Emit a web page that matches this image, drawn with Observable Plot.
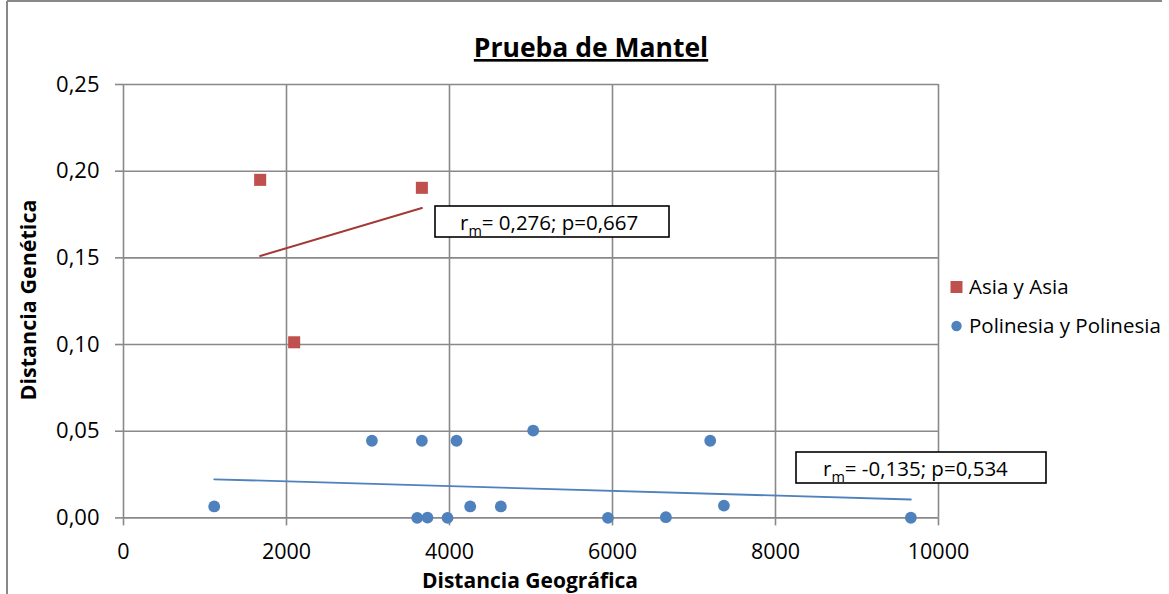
<!DOCTYPE html>
<html>
<head>
<meta charset="utf-8">
<script src="https://cdn.jsdelivr.net/npm/d3@7"></script>
<script src="https://cdn.jsdelivr.net/npm/@observablehq/plot@0.6"></script>
<style>
  html, body { margin: 0; padding: 0; background: #fff; }
  #chart { position: relative; width: 1169px; height: 594px; overflow: hidden; }
</style>
</head>
<body>
<div id="chart"></div>
<script>
// ---- data ----
const asiaX = [1677, 3661, 2094];
const asiaY = [0.195, 0.1904, 0.1013];
const polX = [1113, 3048, 3661, 4086, 5027, 3604, 3730, 3976, 4254, 4630, 5944, 6655, 7199, 7367, 9661];
const polY = [0.0066, 0.0445, 0.0445, 0.0445, 0.0504, 0, 0.0002, 0, 0.0066, 0.0066, 0, 0.0004, 0.0445, 0.0071, 0.0001];
const xTicks = [0, 2000, 4000, 6000, 8000, 10000];
const yTicks = [0, 0.05, 0.10, 0.15, 0.20, 0.25];
const seriesNames = ["Asia y Asia", "Polinesia y Polinesia"];
const titleText = "Prueba de Mantel";
const xTitle = "Distancia Geográfica";
const yTitle = "Distancia Genética";
const note1 = ["r", "m", "= 0,276; p=0,667"];
const note2 = ["r", "m", "= -0,135; p=0,534"];

const asia = asiaX.map((x, i) => ({x, y: asiaY[i]}));
const pol = polX.map((x, i) => ({x, y: polY[i]}));

const RED = "#C0504D", BLUE = "#4F81BD", GRID = "#898989";
const FONT = "'Open Sans', sans-serif";

const plot = Plot.plot({
  width: 1169, height: 594,
  marginLeft: 123, marginRight: 231, marginTop: 84, marginBottom: 76.6,
  style: {fontFamily: FONT, fontSize: "22px", color: "#000", background: "#fff", overflow: "visible"},
  x: {domain: [0, 10000]},
  y: {domain: [0, 0.25]},
  marks: [
    Plot.gridX(xTicks, {stroke: GRID, strokeOpacity: 1, strokeWidth: 1.6}),
    Plot.gridY(yTicks, {stroke: GRID, strokeOpacity: 1, strokeWidth: 1.6}),
    Plot.axisX(xTicks, {tickSize: 8, tickPadding: 18, stroke: GRID, strokeWidth: 1.6, fontSize: 21.5, label: null, tickFormat: d => String(d)}),
    Plot.axisY(yTicks, {tickSize: 8, tickPadding: 16, stroke: GRID, strokeWidth: 1.6, fontSize: 22, label: null, tickFormat: d => d.toFixed(2).replace(".", ",")}),
    Plot.linearRegressionY(asia, {x: "x", y: "y", stroke: "#A23A36", strokeWidth: 2, ci: 0}),
    Plot.linearRegressionY(pol, {x: "x", y: "y", stroke: BLUE, strokeWidth: 1.8, ci: 0}),
    Plot.dot(asia, {x: "x", y: "y", symbol: "square", r: 6.8, fill: RED, stroke: "none"}),
    Plot.dot(pol, {x: "x", y: "y", symbol: "circle", r: 5.9, fill: BLUE, stroke: "none"})
  ]
});
document.getElementById("chart").appendChild(plot);

const svg = d3.select(plot);
// outer frame
svg.append("line").attr("x1", 7).attr("y1", 1).attr("x2", 1162).attr("y2", 1).attr("stroke", "#888").attr("stroke-width", 2);
svg.append("line").attr("x1", 7).attr("y1", 1).attr("x2", 7).attr("y2", 594).attr("stroke", "#888").attr("stroke-width", 2);

// title
svg.append("text").attr("x", 591).attr("y", 57).attr("text-anchor", "middle")
  .attr("font-family", FONT).attr("font-weight", "bold").attr("font-size", 26.5)
  .attr("text-decoration", "underline").attr("fill", "#000").text(titleText);

// axis titles
svg.append("text").attr("x", 530).attr("y", 587.5).attr("text-anchor", "middle")
  .attr("font-family", FONT).attr("font-weight", "bold").attr("font-size", 21).attr("fill", "#000").text(xTitle);
svg.append("text").attr("transform", "translate(36,300) rotate(-90)").attr("text-anchor", "middle")
  .attr("font-family", FONT).attr("font-weight", "bold").attr("font-size", 21.5).attr("fill", "#000").text(yTitle);

// legend
svg.append("rect").attr("x", 950.5).attr("y", 281).attr("width", 12).attr("height", 12).attr("fill", RED);
svg.append("text").attr("x", 969).attr("y", 293.5).attr("text-anchor", "start").attr("font-family", FONT).attr("font-size", 20.5).attr("fill", "#000").text(seriesNames[0]);
svg.append("circle").attr("cx", 956.5).attr("cy", 326).attr("r", 5.2).attr("fill", BLUE);
svg.append("text").attr("x", 969).attr("y", 333).attr("text-anchor", "start").attr("font-family", FONT).attr("font-size", 20.5).attr("fill", "#000").text(seriesNames[1]);

// annotation boxes
function note(bx, by, bw, bh, tx, ty, parts) {
  svg.append("rect").attr("x", bx).attr("y", by).attr("width", bw).attr("height", bh)
    .attr("fill", "#fff").attr("stroke", "#000").attr("stroke-width", 1.6);
  const t = svg.append("text").attr("x", tx).attr("y", ty).attr("text-anchor", "start")
    .attr("font-family", FONT).attr("font-size", 20.5).attr("fill", "#000");
  t.append("tspan").text(parts[0]);
  t.append("tspan").attr("font-size", 14.5).attr("dy", 6).text(parts[1]);
  t.append("tspan").attr("dy", -6).text(parts[2]);
}
note(435, 206, 234, 31, 460, 229.5, note1);
note(796, 452, 250, 31, 823, 476, note2);
</script>
</body>
</html>
